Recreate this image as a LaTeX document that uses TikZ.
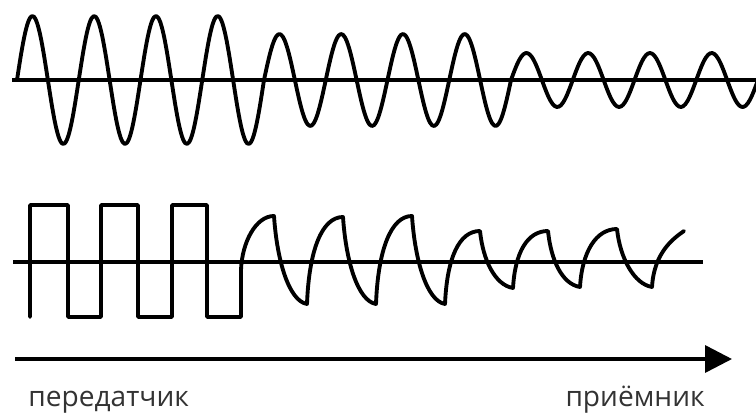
\documentclass[tikz,border=0pt]{standalone}
\usepackage{fontspec}
\setmainfont{Open Sans}
\usetikzlibrary{arrows.meta}

\begin{document}
\begin{tikzpicture}[x=0.02cm, y=-0.02cm,
    wave/.style={draw, line width=2.2pt, line join=round, line cap=round},
    axis/.style={draw, line width=2pt},
    label/.style={font=\fontsize{16}{20}\selectfont, text=black!80, inner sep=0pt}
  ]
  \useasboundingbox (0,0) rectangle (756,412);

  % upper signal: sine, amplitude falling in three steps
  \draw[axis] (12,80) -- (756,80);
  \foreach \amp [count=\i from 0] in {64,46,27} {
    \pgfmathsetmacro{\xa}{17+247*\i}
    \pgfmathsetmacro{\xb}{17+247*(\i+1)}
    \draw[wave] plot[domain=\xa:\xb, samples=120, smooth]
      (\x, {80-\amp*sin((\x-17)/61.75*360)});
  }

  % lower signal: square pulses, then distorted
  \draw[axis] (13,262) -- (703,262);
  \draw[wave] (30,317) -- (30,205) -- (68,205) -- (68,317) -- (101,317)
    -- (101,205) -- (138,205) -- (138,317) -- (172,317) -- (172,205)
    -- (207,205) -- (207,317) -- (241,317) -- (241,270)
    .. controls +(1,-28) and +(-18,0) .. (274,216)
    \foreach \tx/\ty/\fs/\px/\py/\rs in {307/304/1/343/217/1,
        376/304/1/412/216/1, 445/304/1/480/231/0.85,
        513/288/0.65/548/231/0.65, 580/287/0.65/617/229/0.65} {
      .. controls +(3,{45*\fs}) and +(-18,-3) .. (\tx,\ty)
      .. controls +(2,{-54*\rs}) and +(-21,0) .. (\px,\py)
    }
    .. controls +(3,29) and +(-18,-3) .. (652,287)
    .. controls +(2,-35) and +(-10,7) .. (684,231);

  % direction
  \coordinate (tx) at (15,359);
  \coordinate (rx) at (732,359);
  \draw[axis, -{Triangle[length=0.54cm, width=0.54cm]}] (tx) -- (rx);
  \node[label, anchor=base west] (sender) at (28,406) {передатчик};
  \node[label, anchor=base east] (receiver) at (705,406) {приёмник};
\end{tikzpicture}
\end{document}
